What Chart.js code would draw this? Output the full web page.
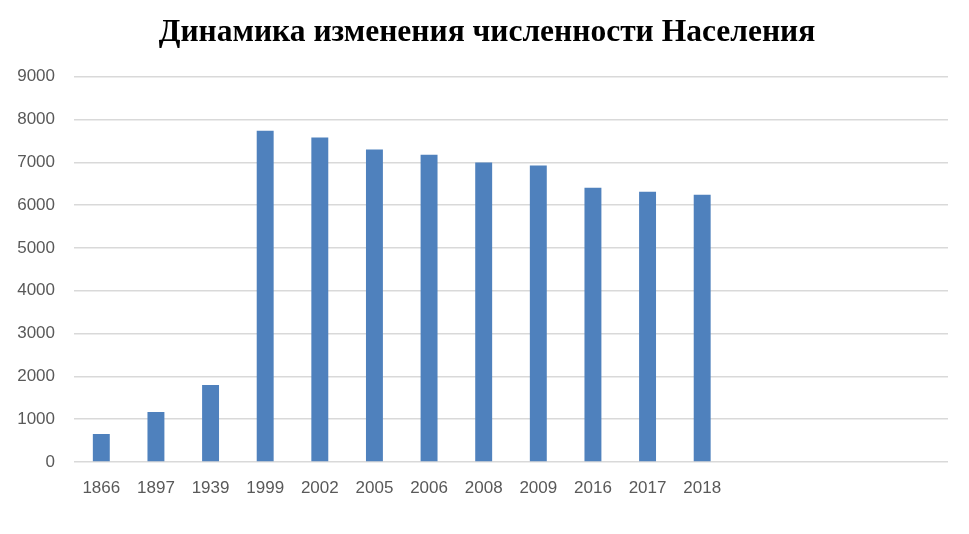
<!DOCTYPE html>
<html>
<head>
<meta charset="utf-8">
<script src="https://cdn.jsdelivr.net/npm/chart.js@4"></script>
<style>
  html, body { margin: 0; padding: 0; background: #fff; }
  #wrap { width: 969px; height: 534px; }
</style>
</head>
<body>
<div id="wrap"><canvas id="chartjs"></canvas></div>
<script>
const years = ['1866', '1897', '1939', '1999', '2002', '2005', '2006', '2008', '2009', '2016', '2017', '2018', '', '', '', ''];
const population = [655, 1170, 1800, 7740, 7580, 7300, 7180, 7000, 6925, 6410, 6315, 6245];
const yTicks = [0, 1000, 2000, 3000, 4000, 5000, 6000, 7000, 8000, 9000];

const ctx = document.getElementById('chartjs');

const chart = new Chart(ctx, {
    type: 'bar',
    data: {
        labels: years,
        datasets: [{
            data: population,
            backgroundColor: '#4f81bd',
            barPercentage: 0.31,
            categoryPercentage: 1
        }]
    },
    options: {
        responsive: true,
        maintainAspectRatio: false,
        animation: false,
        layout: { padding: { left: 5, right: 0, top: 0, bottom: 22 } },
        plugins: {
            legend: { display: false },
            tooltip: { enabled: false },
            title: {
                display: true,
                text: 'Динамика изменения численности Населения',
                color: '#000',
                font: { family: '"Liberation Serif", "Times New Roman", serif', size: 31.5, weight: 'bold' },
                padding: { top: 14, bottom: 25 }
            }
        },
        scales: {
            x: {
                grid: { display: false, drawTicks: false },
                border: { display: false },
                ticks: {
                    color: '#595959',
                    font: { family: '"Liberation Sans", Arial, sans-serif', size: 17 },
                    padding: 16,
                    maxRotation: 0,
                    autoSkip: false
                },
                afterFit: function (scale) { scale.height = 50; }
            },
            y: {
                min: 0,
                max: 9000,
                afterBuildTicks: function (scale) {
                    scale.ticks = yTicks.map(v => ({ value: v }));
                },
                grid: { color: '#d9d9d9', lineWidth: 1.5, drawTicks: false },
                border: { display: false },
                ticks: {
                    color: '#595959',
                    font: { family: '"Liberation Sans", Arial, sans-serif', size: 17 },
                    padding: 19,
                    callback: function (value) { return String(value); }
                },
                afterFit: function (scale) { scale.width = 69; }
            },
            // empty spacer on the right so the plot stops where the reference does
            yRight: {
                position: 'right',
                min: 0,
                max: 9000,
                grid: { display: false, drawTicks: false },
                border: { display: false },
                ticks: { display: false },
                afterFit: function (scale) { scale.width = 21; }
            }
        }
    }
});
</script>
</body>
</html>
